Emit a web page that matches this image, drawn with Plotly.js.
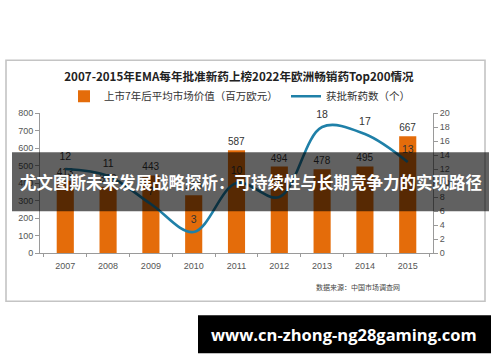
<!DOCTYPE html>
<html>
<head>
<meta charset="utf-8">
<script src="https://cdn.plot.ly/plotly-3.0.1.min.js"></script>
<style>
html,body{margin:0;padding:0;background:#fff;}
#chart{width:500px;height:362px;}
</style>
</head>
<body>
<div id="chart"></div>
<script>
// ---- data ----
const years = ['2007', '2008', '2009', '2010', '2011', '2012', '2013', '2014', '2015'];
const marketValue = [413, 378, 443, 330, 587, 494, 478, 495, 667];   // 上市7年后平均市场价值（百万欧元）
const approvedCount = [12, 11, 7, 3, 10, 8, 18, 17, 13];             // 获批新药数（个）
const leftTicks = [0, 100, 200, 300, 400, 500, 600, 700, 800];
const rightTicks = [0, 2, 4, 6, 8, 10, 12, 14, 16, 18, 20];

const titleText = '2007-2015年EMA每年批准新药上榜2022年欧洲畅销药Top200情况';
const barName = '上市7年后平均市场价值（百万欧元）';
const lineName = '获批新药数（个）';
const sourceText = '数据来源：中国市场调查网';
const bannerText = '尤文图斯未来发展战略探析：可持续性与长期竞争力的实现路径';
const urlText = 'www.cn-zhong-ng28gaming.com';

const CJK = 'Noto Sans CJK SC, sans-serif';
const NUM = 'Liberation Sans, Arial, sans-serif';

// plot-area geometry helpers (pixels -> paper)
const L = 40, R = 433, T = 112.7, B = 252.7;
const px = x => (x - L) / (R - L);
const py = y => (B - y) / (B - T);

const traces = [
  {
    type: 'bar',
    x: years,
    y: marketValue,
    name: barName,
    marker: {color: '#E46C0A'},
    text: marketValue.map(String),
    textposition: 'outside',
    constraintext: 'none',
    cliponaxis: false,
    textfont: {family: NUM, size: 10, color: '#333'},
    legend: 'legend',
    hoverinfo: 'x+y'
  },
  {
    type: 'scatter',
    mode: 'lines+markers+text',
    x: years,
    y: approvedCount,
    yaxis: 'y2',
    name: lineName,
    line: {color: '#1F80A8', width: 2.6, shape: 'spline', smoothing: 1},
    marker: {size: 9, color: 'rgba(0,0,0,0)', line: {width: 0}},
    text: approvedCount.map(String),
    textposition: 'top center',
    cliponaxis: false,
    textfont: {family: NUM, size: 10.5, color: '#333'},
    legend: 'legend2'
  }
];

const axisCommon = {
  showgrid: false,
  zeroline: false,
  showline: true,
  linecolor: '#9a9a9a',
  linewidth: 1,
  ticks: 'outside',
  ticklen: 4,
  tickcolor: '#9a9a9a',
  tickfont: {family: NUM, size: 9, color: '#555'},
  fixedrange: true
};

const layout = {
  width: 500,
  height: 362,
  margin: {l: L, r: 500 - R, t: T, b: 362 - B, pad: 0},
  paper_bgcolor: '#fff',
  plot_bgcolor: '#fff',
  bargap: 0.6,
  title: {
    text: '<b>' + titleText + '</b>',
    font: {family: CJK, size: 11.6, color: '#222'},
    xref: 'container', x: 239 / 500, xanchor: 'center',
    yref: 'container', y: 1 - 77 / 362, yanchor: 'middle'
  },
  xaxis: Object.assign({}, axisCommon, {
    type: 'category',
    tickson: 'boundaries',
    ticklen: 3,
    ticklabelstandoff: 4
  }),
  yaxis: Object.assign({}, axisCommon, {
    range: [0, 800],
    tickvals: leftTicks,
    ticktext: leftTicks.map(String)
  }),
  yaxis2: Object.assign({}, axisCommon, {
    overlaying: 'y',
    side: 'right',
    range: [0, 20],
    tickvals: rightTicks,
    ticktext: rightTicks.map(String)
  }),
  legend: {
    orientation: 'h',
    x: px(64), xanchor: 'left',
    y: py(96), yanchor: 'middle',
    font: {family: CJK, size: 10.5, color: '#333'},
    bgcolor: 'rgba(0,0,0,0)',
    borderwidth: 0
  },
  legend2: {
    orientation: 'h',
    x: px(286), xanchor: 'left',
    y: py(96), yanchor: 'middle',
    font: {family: CJK, size: 10.5, color: '#333'},
    bgcolor: 'rgba(0,0,0,0)',
    borderwidth: 0
  },
  shapes: [
    // chart frame
    {type: 'rect', xref: 'paper', yref: 'paper', layer: 'below',
     x0: px(6), x1: px(485), y0: py(301), y1: py(60),
     line: {color: '#c4c4c4', width: 1.6}, fillcolor: 'rgba(0,0,0,0)'},
    // dark overlay banner
    {type: 'rect', xref: 'paper', yref: 'paper', layer: 'above',
     x0: px(12), x1: px(489), y0: py(211), y1: py(152),
     line: {width: 0}, fillcolor: 'rgba(0,0,0,0.62)'},
    // black url banner
    {type: 'rect', xref: 'paper', yref: 'paper', layer: 'above',
     x0: px(198), x1: px(491), y0: py(353), y1: py(315),
     line: {width: 0}, fillcolor: '#000'}
  ],
  annotations: [
    {text: sourceText, xref: 'paper', yref: 'paper', x: px(358), y: py(287),
     xanchor: 'center', yanchor: 'middle', showarrow: false,
     font: {family: CJK, size: 7, color: '#444'}},
    {text: '<b>' + bannerText + '</b>', xref: 'paper', yref: 'paper', x: px(250.5), y: py(181.5),
     xanchor: 'center', yanchor: 'middle', showarrow: false,
     font: {family: CJK, size: 16.5, color: '#fff'}},
    {text: '<b>' + urlText + '</b>', xref: 'paper', yref: 'paper', x: px(343.5), y: py(334),
     xanchor: 'center', yanchor: 'middle', showarrow: false,
     font: {family: 'Open Sans, DejaVu Sans, sans-serif', size: 16.5, color: '#fff'}}
  ],
  showlegend: true
};

Plotly.newPlot('chart', traces, layout, {displayModeBar: false, staticPlot: true});
</script>
</body>
</html>
